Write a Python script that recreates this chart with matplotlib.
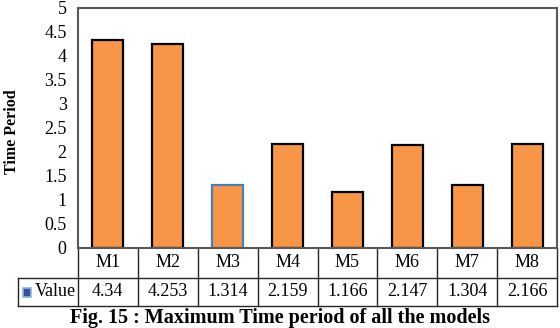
import matplotlib.pyplot as plt
import matplotlib.transforms as mtransforms
from matplotlib.patches import Rectangle

models = ["M1", "M2", "M3", "M4", "M5", "M6", "M7", "M8"]
values = [4.34, 4.253, 1.314, 2.159, 1.166, 2.147, 1.304, 2.166]
value_labels = ["4.34", "4.253", "1.314", "2.159", "1.166", "2.147", "1.304", "2.166"]
yticks = [0, 0.5, 1, 1.5, 2, 2.5, 3, 3.5, 4, 4.5, 5]

plt.rcParams['font.family'] = ['Liberation Serif', 'DejaVu Serif']

fig = plt.figure(figsize=(5.6, 3.28), dpi=100)
ax = fig.add_axes([0.139, 0.244, 0.856, 0.7317])

n = len(models)
edges = ['#4a7ebb' if m == "M3" else 'black' for m in models]
ax.bar(range(n), values, width=0.52, color='#f79646',
       edgecolor=edges, linewidth=1.6)

ax.set_xlim(-0.5, n - 0.5)
ax.set_ylim(0, 5)
ax.set_yticks(yticks)
ax.set_yticklabels(["%g" % t for t in yticks], fontsize=13)
ax.set_xticks([])
ax.tick_params(axis='y', length=0, pad=8)
for s in ax.spines.values():
    s.set_color('#595959')
    s.set_linewidth(1.5)

fig.text(0.022, 0.6, "Time Period", rotation=90, ha='center', va='center',
         fontsize=11.5, fontweight='bold')

# data table drawn under the axis (x in data units, y in axes units)
tr = mtransforms.blended_transform_factory(ax.transData, ax.transAxes)
r1 = -30 / 240
r2 = -58 / 240
lc = '#262626'
ax.plot([-1.5, n - 0.5], [r1, r1], color=lc, lw=1.0, transform=tr, clip_on=False)
ax.plot([-1.5, n - 0.5], [r2, r2], color=lc, lw=1.0, transform=tr, clip_on=False)
ax.plot([-1.5, -1.5], [r1, r2], color=lc, lw=1.0, transform=tr, clip_on=False)
for i in range(n + 1):
    ax.plot([i - 0.5, i - 0.5], [0, r2], color=lc, lw=1.0, transform=tr, clip_on=False)
for i in range(n):
    ax.text(i, r1 / 2, models[i], ha='center', va='center', fontsize=13, transform=tr)
    ax.text(i, (r1 + r2) / 2, value_labels[i], ha='center', va='center',
            fontsize=13, transform=tr)
ax.text(-0.53, (r1 + r2) / 2, "Value", ha='right', va='center', fontsize=13, transform=tr)

# legend key in the row label cell
fig.patches.append(Rectangle((23 / 560, 1 - 297 / 328), 8 / 560, 9 / 328,
                             transform=fig.transFigure, facecolor='#2f5597',
                             edgecolor='#8db3e2', linewidth=1.2))

fig.text(0.5, 0.032, "Fig. 15 : Maximum Time period of all the models",
         ha='center', va='center', fontsize=14.5, fontweight='bold')

fig.savefig("out.png", dpi=100)
